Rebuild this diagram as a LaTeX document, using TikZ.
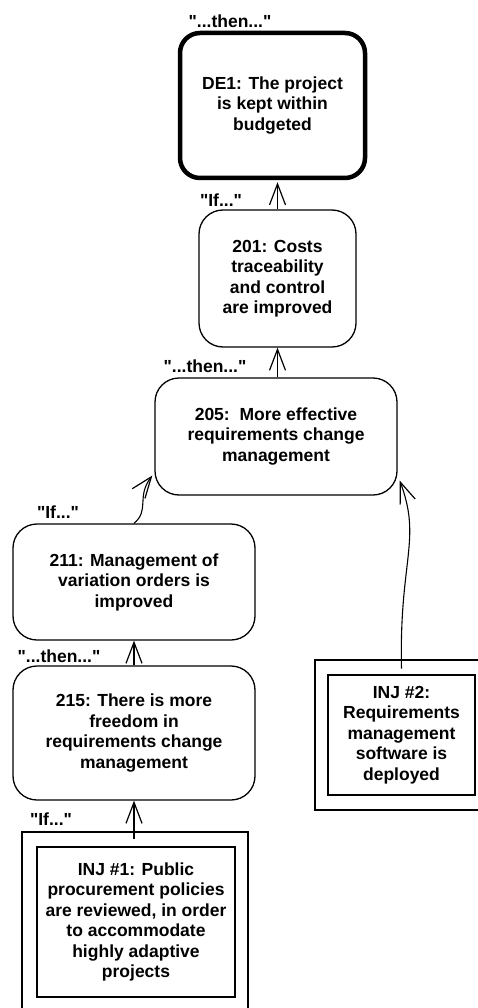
\documentclass[tikz,border=0pt]{standalone}
\usepackage{fontspec}
\setmainfont{Liberation Sans}
\usetikzlibrary{arrows.meta}
\newcommand{\qq}[1]{\textquotedbl#1\textquotedbl}
\begin{document}
\begin{tikzpicture}[x=1pt,y=-1pt,
  every node/.style={font=\bfseries\fontsize{17.5}{20.5}\selectfont, align=center, inner sep=0pt},
  entity/.style={draw, line width=1.3pt, rounded corners=24pt},
  goal/.style={draw, line width=4.5pt, rounded corners=20pt},
  frame/.style={draw, line width=2.6pt},
  tag/.style={},
  link/.style={line width=1.1pt, -{Straight Barb[length=21pt,width=16pt,line width=1.2pt]}}
]
\useasboundingbox (0,0) rectangle (478,1008);

% effect chain
\node[goal, minimum width=185pt, minimum height=145pt] (de1) at (272.5,105.5)
  {DE1: The project\\is kept within\\budgeted};
\node[entity, minimum width=157pt, minimum height=137pt] (e201) at (277.5,278.5)
  {201: Costs\\traceability\\and control\\are improved};
\node[entity, minimum width=242pt, minimum height=117pt] (e205) at (276,436.5)
  {205:\ \ More effective\\requirements change\\management};
\node[entity, minimum width=242pt, minimum height=116pt] (e211) at (134,582)
  {211: Management of\\variation orders is\\improved};
\node[entity, minimum width=242pt, minimum height=134pt] (e215) at (134,733)
  {215: There is more\\freedom in\\requirements change\\management};

% injections
\node[frame, minimum width=226pt, minimum height=184pt] (inj1out) at (135,924) {};
\node[frame, minimum width=198pt, minimum height=150pt] (inj1) at (136,922)
  {INJ \#1: Public\\procurement policies\\are reviewed, in order\\to accommodate\\highly adaptive\\projects};
\node[frame, minimum width=175pt, minimum height=150pt] (inj2out) at (402.5,735) {};
\node[frame, minimum width=147pt, minimum height=120pt] (inj2) at (401.5,735)
  {INJ \#2:\\Requirements\\management\\software is\\deployed};

% if / then labels
\node[tag] (t1) at (230,21) {\qq{...then...}};
\node[tag] (i1) at (221,200) {\qq{If...}};
\node[tag] (t2) at (205,366) {\qq{...then...}};
\node[tag] (i2) at (58,512) {\qq{If...}};
\node[tag] (t3) at (59,656) {\qq{...then...}};
\node[tag] (i3) at (51,819) {\qq{If...}};

% connectors
\draw[link] (e201.north) -- ([yshift=-2pt]e201.north |- de1.south);
\draw[link] (e201.south |- e205.north) -- (e201.south);
\draw[link] (e211.north) .. controls (150,510) and (136,497) .. ([shift={(-2,39)}]e205.west);
\draw[link] (e215.north) -- (e211.south);
\draw[link] ([yshift=7pt]inj1.north -| e215.south) -- (e215.south);
\draw[link] ([yshift=5pt]inj2.north) .. controls (399,560) and (422,540) .. ([shift={(2,44)}]e205.east);
\end{tikzpicture}
\end{document}
